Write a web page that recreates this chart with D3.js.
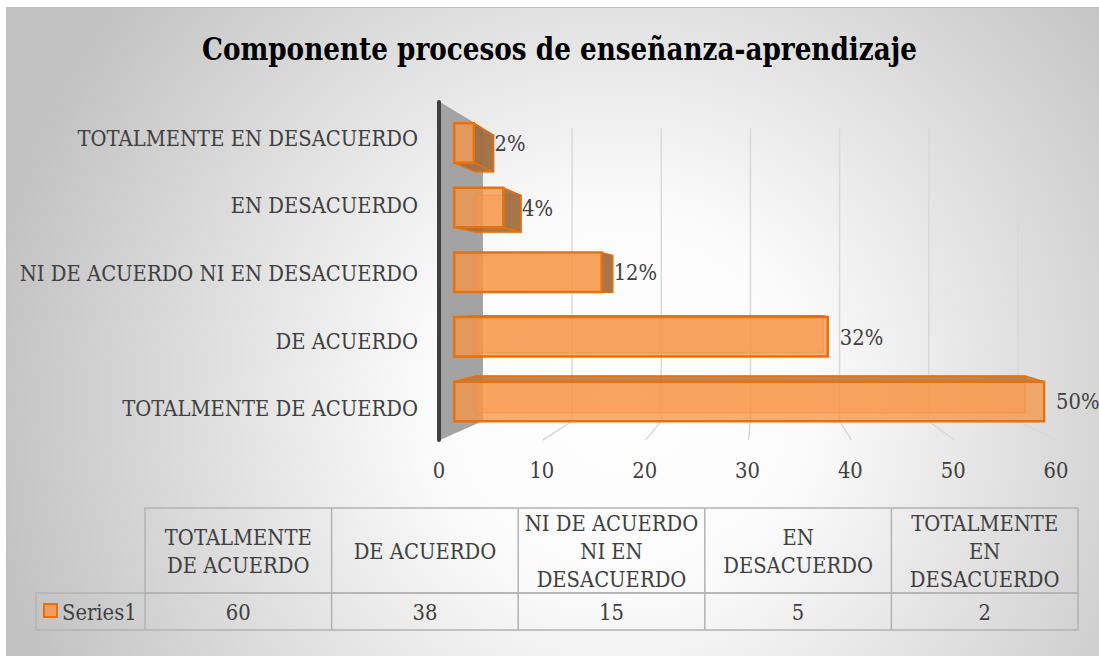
<!DOCTYPE html>
<html>
<head>
<meta charset="utf-8">
<script src="https://cdn.jsdelivr.net/npm/d3@7"></script>
<style>
  html, body { margin: 0; padding: 0; background: #fff; }
  svg { display: block; }
</style>
</head>
<body>
<div id="chart"></div>
<script>
// Data (table order, as in the data table under the chart)
const categories = ["TOTALMENTE DE ACUERDO", "DE ACUERDO", "NI DE ACUERDO NI EN DESACUERDO", "EN DESACUERDO", "TOTALMENTE EN DESACUERDO"];
const values = [60, 38, 15, 5, 2];
const percentLabels = ["50%", "32%", "12%", "4%", "2%"];
const xTicks = [0, 10, 20, 30, 40, 50, 60];
const seriesName = "Series1";
const title = "Componente procesos de enseñanza-aprendizaje";

const W = 1099, H = 656;
const FONT = "'DejaVu Serif', 'Liberation Serif', serif";
const FS = 22;
const SX = 0.89;          // glyphs in the picture are narrow; squeeze them a bit
const TEXT = "#404040";
const ORANGE = "#F79646", ORANGE_LINE = "#E8700E";

const svg = d3.select("#chart").append("svg")
    .attr("width", W)
    .attr("height", H);

const defs = svg.append("defs");
const bg = defs.append("radialGradient")
    .attr("id", "bg")
    .attr("gradientUnits", "userSpaceOnUse")
    .attr("cx", 620).attr("cy", 400).attr("r", 640);
bg.append("stop").attr("offset", 0).attr("stop-color", "#ffffff");
bg.append("stop").attr("offset", 0.3).attr("stop-color", "#fbfbfb");
bg.append("stop").attr("offset", 1).attr("stop-color", "#c2c2c2");

svg.append("rect")
    .attr("x", 6.5).attr("y", 7.5)
    .attr("width", W).attr("height", H)
    .attr("fill", "url(#bg)")
    .attr("stroke", "#bfbfbf");

// squeezed text helper
function addText(parent, x, y, str, anchor) {
    return parent.append("text")
        .attr("transform", "translate(" + x + "," + y + ") scale(" + SX + ",1)")
        .attr("text-anchor", anchor || "start")
        .attr("font-family", FONT)
        .attr("font-size", FS)
        .attr("fill", TEXT)
        .text(str);
}

// title
svg.append("text")
    .attr("x", 202).attr("y", 60)
    .attr("textLength", 715)
    .attr("lengthAdjust", "spacingAndGlyphs")
    .attr("font-family", FONT)
    .attr("font-size", 31)
    .attr("font-weight", "bold")
    .attr("fill", "#000")
    .text(title);

// front plane scales
const x = d3.scaleLinear().domain([0, 60]).range([440, 1057]);
const y = d3.scaleBand()
    .domain(categories.slice().reverse())
    .range([102, 440])
    .paddingInner(0.39)
    .paddingOuter(0.195);

// simple perspective: points shrink toward the vanishing point with depth z (0 front, 1 back)
const VP = [763, 298];
const DEPTH_K = 0.133;
function proj(px, py, z) {
    const s = 1 - DEPTH_K * z;
    return [VP[0] + (px - VP[0]) * s, VP[1] + (py - VP[1]) * s];
}
function poly(pts) {
    return pts.map(function(p) { return proj(p[0], p[1], p[2]).join(","); }).join(" ");
}

const yTop = y.range()[0], yBot = y.range()[1];
const plot = svg.append("g");

// side wall
plot.append("polygon")
    .attr("points", poly([[x(0), yTop, 0], [x(0), yTop, 1], [x(0), yBot, 1], [x(0), yBot, 0]]))
    .attr("fill", "#a3a3a3");

// back wall gridlines and floor lines
xTicks.filter(function(t) { return t > 0; }).forEach(function(t) {
    const a = proj(x(t), yTop, 1), b = proj(x(t), yBot, 1), c = proj(x(t), yBot, 0);
    plot.append("line")
        .attr("x1", a[0]).attr("y1", a[1]).attr("x2", b[0]).attr("y2", b[1])
        .attr("stroke", "#d9d9d9").attr("stroke-width", 1.5);
    plot.append("line")
        .attr("x1", b[0]).attr("y1", b[1]).attr("x2", c[0]).attr("y2", c[1])
        .attr("stroke", "#d9d9d9").attr("stroke-width", 1.5);
});

// category axis line
plot.append("line")
    .attr("x1", x(0) - 1).attr("x2", x(0) - 1)
    .attr("y1", yTop).attr("y2", yBot)
    .attr("stroke", "#3f3f3f").attr("stroke-width", 4)
    .attr("stroke-linecap", "round");

// bars
const ZF = 0.33, ZB = 0.82;
categories.forEach(function(cat, i) {
    const v = values[i];
    const x0 = x(0), x1 = x(v);
    const y0 = y(cat), y1 = y0 + y.bandwidth();
    const g = plot.append("g");

    // back face, seen through the translucent front
    g.append("polygon")
        .attr("points", poly([[x0, y0, ZB], [x1, y0, ZB], [x1, y1, ZB], [x0, y1, ZB]]))
        .attr("fill", ORANGE).attr("fill-opacity", 0.4)
        .attr("stroke", ORANGE_LINE).attr("stroke-opacity", 0.5).attr("stroke-width", 1.5);

    if (y0 > VP[1]) {
        g.append("polygon")
            .attr("points", poly([[x0, y0, ZF], [x1, y0, ZF], [x1, y0, ZB], [x0, y0, ZB]]))
            .attr("fill", "#b5773f").attr("fill-opacity", 0.85)
            .attr("stroke", ORANGE_LINE).attr("stroke-width", 1.5).attr("stroke-linejoin", "round");
    }
    if (y1 < VP[1]) {
        g.append("polygon")
            .attr("points", poly([[x0, y1, ZF], [x1, y1, ZF], [x1, y1, ZB], [x0, y1, ZB]]))
            .attr("fill", "#9c6a3e").attr("fill-opacity", 0.85)
            .attr("stroke", ORANGE_LINE).attr("stroke-width", 1.5).attr("stroke-linejoin", "round");
    }
    if (x1 < VP[0]) {
        g.append("polygon")
            .attr("points", poly([[x1, y0, ZF], [x1, y0, ZB], [x1, y1, ZB], [x1, y1, ZF]]))
            .attr("fill", "#9c6a3e").attr("fill-opacity", 0.9)
            .attr("stroke", ORANGE_LINE).attr("stroke-width", 1.5).attr("stroke-linejoin", "round");
    }
    g.append("polygon")
        .attr("points", poly([[x0, y0, ZF], [x1, y0, ZF], [x1, y1, ZF], [x0, y1, ZF]]))
        .attr("fill", ORANGE).attr("fill-opacity", 0.77)
        .attr("stroke", ORANGE_LINE).attr("stroke-width", 2.5);

    // data label
    const fr = proj(x1, (y0 + y1) / 2, ZF), br = proj(x1, (y0 + y1) / 2, ZB);
    const lx = Math.max(fr[0], br[0]) + (x1 < VP[0] ? 1 : 12);
    addText(svg, lx, fr[1] + 8, percentLabels[i], "start");

    // category label
    addText(svg, 418, y(cat) + y.bandwidth() / 2 + 10, cat, "end");
});

// value axis labels
xTicks.forEach(function(t) {
    addText(svg, x(t) - 1, 478, String(t), "middle");
});

// data table
const col = d3.scaleBand().domain(categories).range([145, 1078]);
const rowTop = 508, rowMid = 593, rowBot = 630, keyLeft = 36;
const table = svg.append("g")
    .attr("fill", "none").attr("stroke", "#b3b3b3").attr("stroke-width", 1.5);
table.append("rect")
    .attr("x", col.range()[0]).attr("y", rowTop)
    .attr("width", col.range()[1] - col.range()[0]).attr("height", rowMid - rowTop);
table.append("rect")
    .attr("x", keyLeft).attr("y", rowMid)
    .attr("width", col.range()[1] - keyLeft).attr("height", rowBot - rowMid);
categories.slice(1).forEach(function(cat) {
    table.append("line")
        .attr("x1", col(cat)).attr("x2", col(cat))
        .attr("y1", rowTop).attr("y2", rowBot);
});
table.append("line")
    .attr("x1", col.range()[0]).attr("x2", col.range()[0])
    .attr("y1", rowMid).attr("y2", rowBot);

// wrap header text on word boundaries to fit the cell
function wrapWords(str, maxWidth) {
    const probe = svg.append("text")
        .attr("font-family", FONT).attr("font-size", FS);
    const words = str.split(" ");
    const lines = [];
    let line = words[0];
    for (let k = 1; k < words.length; k++) {
        probe.text(line + " " + words[k]);
        if (probe.node().getComputedTextLength() * SX > maxWidth) {
            lines.push(line);
            line = words[k];
        } else {
            line = line + " " + words[k];
        }
    }
    lines.push(line);
    probe.remove();
    return lines;
}

const LINE_H = 28;
categories.forEach(function(cat, i) {
    const cx = col(cat) + col.bandwidth() / 2;
    const lines = wrapWords(cat, col.bandwidth() - 6);
    const cy = (rowTop + rowMid) / 2;
    lines.forEach(function(ln, k) {
        const ly = cy + (k - (lines.length - 1) / 2) * LINE_H + 8;
        addText(svg, cx, ly, ln, "middle");
    });
    addText(svg, cx, (rowMid + rowBot) / 2 + 8, String(values[i]), "middle");
});

// legend key in the table
svg.append("rect")
    .attr("x", 44).attr("y", 604)
    .attr("width", 13).attr("height", 13)
    .attr("fill", ORANGE).attr("fill-opacity", 0.85)
    .attr("stroke", ORANGE_LINE).attr("stroke-width", 2);
addText(svg, 62, (rowMid + rowBot) / 2 + 8, seriesName, "start");
</script>
</body>
</html>
